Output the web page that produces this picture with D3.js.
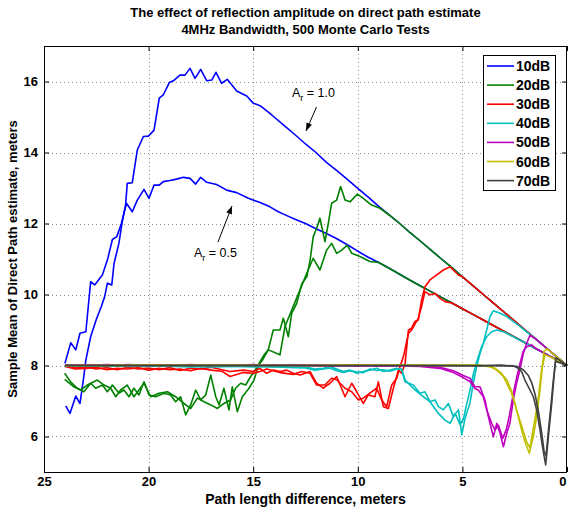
<!DOCTYPE html>
<html><head><meta charset="utf-8">
<script src="https://cdn.jsdelivr.net/npm/d3@7"></script>
<style>
body{margin:0;background:#fff}
svg{display:block}
text{font-family:"Liberation Sans",Arial,Helvetica,sans-serif}
</style>
</head><body>
<svg id="c" width="568" height="508"></svg>
<script>
// ---------- data ----------
const titleLines = ["The effect of reflection amplitude on direct path estimate", "4MHz Bandwidth, 500 Monte Carlo Tests"];
const xLabel = "Path length difference, meters";
const yLabel = "Sample Mean of Direct Path estimate, meters";
const xTicks = [25, 20, 15, 10, 5, 0];
const yTicks = [6, 8, 10, 12, 14, 16];
const seriesNames = ["10dB", "20dB", "30dB", "40dB", "50dB", "60dB", "70dB"];
const seriesColors = ["#0000ff", "#008000", "#ff0000", "#00bfbf", "#bf00bf", "#bfbf00", "#404040"];

// common tails: Ar = 1.0 (upper) and Ar = 0.5 (lower)
const upperEnv = [[14,15.0],[13.5,14.75],[13,14.5],[12.5,14.24],[12,14.0],[11.5,13.72],[11,13.49],[10.5,13.24],[10,12.99],[9.5,12.74],[9,12.48],[8.5,12.24],[8,12.0],[7.5,11.74],[7,11.5],[6.5,11.25],[6,11.0],[5.5,10.76],[5,10.5],[4.5,10.25],[4,10.0],[3.5,9.75],[3,9.5],[2.5,9.25],[2,9.0],[1.5,8.75],[1,8.5],[0.5,8.25],[0,8.0]];
const lowerEnv = [[13.5,12.25],[13,12.12],[12.5,12.0],[12,11.85],[11.5,11.72],[11,11.57],[10.5,11.4],[10,11.22],[9.5,11.05],[9,10.9],[8.5,10.74],[8,10.57],[7.5,10.4],[7,10.24],[6.5,10.08],[6,9.92],[5.5,9.76],[5,9.6],[4.5,9.44],[4,9.28],[3.5,9.12],[3,8.96],[2.5,8.8],[2,8.64],[1.5,8.48],[1,8.32],[0.5,8.16],[0,8.0]];

// 10 dB
const s10a = [[23.96,6.86],[23.76,6.65],[23.48,7.14],[23.28,6.93],[23.12,7.59],[23.0,8.15],[22.77,8.81],[22.48,9.33],[22.26,9.66],[22.1,9.94],[21.97,10.32],[21.76,10.27],[21.65,10.88],[21.42,11.44],[21.26,12.05],[21.1,12.52],[21.02,13.13],[20.78,13.15],[20.54,14.07],[20.25,14.45],[20.01,14.46],[19.74,14.63],[19.49,15.53],[19.3,15.62],[19.01,15.97],[18.82,16.02],[18.5,16.18],[18.26,16.18],[18.02,16.37],[17.78,16.09],[17.51,16.34],[17.22,16.02],[16.98,16.04],[16.78,16.26],[16.51,15.95],[16.24,16.06],[15.79,15.73],[15.31,15.59],[15.0,15.39],[14.67,15.32],[14.2,15.1]];
const s10b = [[24.0,8.06],[23.72,8.64],[23.48,8.44],[23.28,8.91],[23.0,8.95],[22.77,10.36],[22.58,10.27],[22.21,10.55],[21.97,10.97],[21.73,11.55],[21.52,11.63],[21.3,12.0],[21.06,12.57],[20.78,12.33],[20.54,12.66],[20.22,12.96],[19.98,12.71],[19.74,13.08],[19.49,13.08],[19.3,13.18],[18.98,13.21],[18.66,13.25],[18.34,13.3],[18.02,13.27],[17.75,13.11],[17.51,13.3],[17.22,13.16],[16.75,13.1],[16.27,12.94],[15.79,12.87],[15.23,12.71],[14.67,12.59],[14.2,12.47],[13.8,12.33]];
// 20 dB
const s20a = [[24.01,7.78],[23.73,7.54],[23.41,7.36],[23.09,7.26],[22.77,7.5],[22.53,7.36],[22.21,7.45],[21.97,7.26],[21.73,7.45],[21.41,7.22],[21.18,7.31],[20.94,7.12],[20.7,7.36],[20.46,7.17],[20.22,7.54],[19.98,7.17],[19.66,7.12],[19.26,7.22],[18.95,7.17],[18.71,6.98],[18.47,7.12],[18.23,6.61],[17.99,6.89],[17.75,7.31],[17.51,7.03],[17.27,7.17],[17.03,7.73],[16.79,7.12],[16.63,6.89],[16.4,7.36],[16.16,6.75],[16.0,7.4],[15.76,6.7],[15.52,7.12],[15.2,7.36],[14.96,7.59],[14.72,8.06],[14.48,8.3],[14.28,8.44],[14.04,9.0],[13.72,9.0],[13.56,9.33],[13.32,8.81],[13.16,9.47],[12.92,9.75],[12.68,10.3],[12.44,10.5],[12.28,10.97],[12.13,11.63],[11.97,11.86],[11.81,12.15],[11.57,11.49],[11.41,12.0],[11.25,12.57],[11.01,12.66],[10.82,13.04],[10.61,12.66],[10.37,12.61],[10.02,12.83],[9.74,12.71],[9.34,12.52],[8.94,12.43]];
const s20b = [[24.01,7.61],[23.57,7.4],[23.25,7.31],[22.93,7.45],[22.45,7.59],[22.13,7.45],[21.81,7.36],[21.57,7.12],[21.34,7.31],[21.02,7.45],[20.7,7.12],[20.22,7.5],[19.9,7.12],[19.5,7.22],[19.1,7.26],[18.71,7.12],[18.31,6.93],[17.99,6.79],[17.67,7.08],[17.35,6.98],[17.03,6.89],[16.71,6.79],[16.4,6.93],[16.08,7.03],[15.84,7.36],[15.6,7.5],[15.36,7.45],[15.12,7.69],[14.8,7.97],[14.56,8.15],[14.28,8.44],[13.72,8.3],[13.48,9.1],[13.16,9.56],[12.76,10.13],[12.44,10.6],[12.13,11.02],[11.81,10.69],[11.49,11.25],[11.25,11.44],[11.01,11.16],[10.77,11.25],[10.5,11.39],[10.29,11.16],[9.9,11.07],[9.42,10.93]];
// 30 dB
const s30a = [[24,8.0],[23.5,7.93],[23,7.96],[22.5,7.9],[22,7.94],[21.5,7.88],[21,7.95],[20.5,7.9],[20,7.93],[19.5,7.88],[19,7.94],[18.5,7.86],[18,7.92],[17.5,7.9],[17,7.95],[16.5,7.88],[16.11,7.83],[15.47,7.87],[14.99,7.83],[14.68,7.92],[14.36,7.78],[14.04,7.87],[13.72,7.83],[13.4,7.87],[13.08,7.78],[12.76,7.73],[12.28,7.83],[11.97,7.5],[11.65,7.36],[11.33,7.5],[11.01,7.69],[10.61,7.12],[10.29,7.5],[10.05,7.26],[9.74,6.93],[9.5,7.17],[9.18,7.12],[9.02,7.54],[8.78,6.84],[8.54,6.79],[8.3,7.36],[8.06,7.87],[7.9,7.78],[7.74,8.06],[7.58,9.0],[7.43,9.05],[7.27,9.24],[7.11,9.28],[6.95,9.85],[6.79,10.22],[6.55,10.41],[6.23,10.55],[5.91,10.69],[5.59,10.78],[5.35,10.64],[5.19,10.55]];
const s30b = [[24,7.97],[23.5,7.9],[23,7.92],[22.5,7.95],[22,7.88],[21.5,7.92],[21,7.9],[20.5,7.94],[20,7.87],[19.5,7.92],[19,7.88],[18.5,7.9],[18,7.85],[17.5,7.92],[17,7.87],[16.5,7.84],[16.11,7.69],[15.47,7.8],[14.99,7.78],[14.68,7.83],[14.36,7.9],[13.72,7.8],[13.08,7.75],[12.68,7.83],[12.28,7.78],[11.97,7.45],[11.57,7.45],[11.25,7.64],[11.01,7.6],[10.61,7.36],[10.29,7.26],[9.97,7.03],[9.74,7.08],[9.42,7.22],[9.1,7.36],[8.86,7.03],[8.62,6.84],[8.38,7.45],[8.14,7.64],[7.98,7.97],[7.82,8.25],[7.58,8.9],[7.43,9.0],[7.11,9.33],[6.95,9.66],[6.79,10.08],[6.55,9.99],[6.31,10.03],[6.07,9.89],[5.83,9.8]];
// 40 dB
const s40a = [[24,8.0],[23,7.98],[22,8.0],[21,7.97],[20,7.99],[19,7.97],[18,7.98],[17,7.96],[16,7.98],[15,7.96],[14,7.97],[13,7.95],[12.5,7.96],[12.05,7.9],[11.65,7.92],[11.33,7.97],[10.69,7.83],[10.37,7.87],[10.05,7.78],[9.74,7.83],[9.42,7.87],[9.1,7.92],[8.78,7.83],[8.46,7.87],[8.14,7.92],[7.9,7.87],[7.74,7.54],[7.35,7.45],[7.03,7.22],[6.79,7.26],[6.55,6.98],[6.31,7.03],[6.15,6.84],[5.91,6.75],[5.67,6.93],[5.43,6.56],[5.19,6.75],[5.03,6.05],[4.88,6.5],[4.64,6.94],[4.48,7.5],[4.32,7.97],[4.16,8.34],[4.0,8.62],[3.84,9.0],[3.68,9.38],[3.52,9.54],[3.2,9.47],[2.88,9.38],[2.57,9.24],[2.25,9.1],[1.93,8.95]];
const s40b = [[24,7.98],[23,8.0],[22,7.97],[21,7.99],[20,7.97],[19,7.99],[18,7.96],[17,7.98],[16,7.97],[15,7.98],[14,7.96],[13,7.94],[12.5,7.93],[12.05,7.87],[11.65,7.9],[11.33,7.93],[11.01,7.85],[10.69,7.8],[10.37,7.85],[10.05,7.82],[9.74,7.8],[9.42,7.9],[9.1,7.86],[8.78,7.88],[8.46,7.84],[8.14,7.9],[7.9,7.9],[7.74,7.59],[7.27,7.31],[6.87,7.12],[6.55,6.98],[6.15,6.65],[5.83,6.46],[5.59,6.37],[5.35,6.65],[5.11,6.33],[4.95,6.5],[4.8,6.9],[4.64,7.3],[4.48,7.75],[4.32,8.1],[4.08,8.53],[3.84,8.81],[3.6,8.95],[3.36,9.0],[3.04,8.95],[2.72,8.86],[2.41,8.76]];
// 50 dB
const s50a = [[24,8.02],[23,8.0],[22,8.03],[21,8.0],[20,8.02],[19,8.0],[18,8.03],[17,8.0],[16,8.02],[15,8.0],[14,8.02],[13,8.0],[12,8.01],[11,7.99],[10,8.01],[9,7.98],[8,8.0],[7.03,7.99],[6.07,7.95],[5.43,7.85],[4.96,7.72],[4.64,7.64],[4.4,7.4],[4.16,7.4],[3.92,7.03],[3.76,6.56],[3.52,5.99],[3.36,6.37],[3.2,6.09],[3.04,5.71],[2.88,6.09],[2.73,6.37],[2.57,7.03],[2.41,7.5],[2.25,7.87],[2.09,8.34],[1.93,8.62],[1.77,8.85]];
const s50b = [[24,8.0],[23,8.02],[22,8.0],[21,8.03],[20,8.0],[19,8.02],[18,8.0],[17,8.02],[16,8.0],[15,8.03],[14,8.0],[13,8.02],[12,7.99],[11,8.0],[10,7.98],[9,8.0],[8,7.99],[7.03,7.97],[6.07,7.92],[5.43,7.8],[4.96,7.66],[4.64,7.55],[4.4,7.35],[4.24,7.31],[4.0,7.12],[3.84,6.75],[3.6,6.37],[3.44,6.18],[3.28,6.32],[3.07,5.95],[2.9,6.2],[2.75,6.6],[2.57,7.2],[2.41,7.65],[2.25,8.05],[2.09,8.4],[1.93,8.53],[1.69,8.58]];
// 60 dB
const s60a = [[24,8.0],[20,8.01],[16,8.0],[12,8.0],[10,8.02],[8,8.0],[5,8.01],[4.16,8.01],[3.68,7.97],[3.36,7.87],[3.04,7.69],[2.8,7.4],[2.65,7.22],[2.49,6.93],[2.33,6.56],[2.17,6.18],[2.01,5.85],[1.8,5.53],[1.61,5.99],[1.45,6.56],[1.29,7.31],[1.21,7.78],[1.1,8.4],[0.95,8.47]];
const s60b = [[24,8.0],[20,8.0],[16,8.01],[12,8.0],[8,8.01],[5,8.0],[4.16,8.0],[3.52,7.95],[3.2,7.82],[2.88,7.6],[2.65,7.28],[2.41,6.75],[2.17,6.3],[1.93,5.85],[1.77,5.68],[1.65,6.1],[1.5,6.6],[1.35,7.2],[1.21,7.9],[1.05,8.3]];
// 70 dB
const s70a = [[24,8.0],[16,8.0],[8,8.0],[4.16,7.99],[3.2,8.01],[2.57,7.99],[2.33,7.92],[2.17,7.83],[2.01,7.59],[1.77,7.31],[1.61,7.12],[1.45,6.75],[1.29,6.18],[1.17,5.71],[1.02,5.2],[0.89,6.0],[0.73,6.93],[0.62,7.69],[0.53,8.22]];
const s70b = [[24,8.0],[16,8.0],[8,8.0],[4,8.0],[2.41,7.98],[2.09,7.88],[1.85,7.72],[1.69,7.52],[1.53,7.2],[1.37,6.72],[1.21,6.1],[1.1,5.6],[1.0,5.45],[0.9,6.1],[0.78,6.8],[0.66,7.55],[0.55,8.12]];

const seriesA = [s10a, s20a, s30a, s40a, s50a, s60a, s70a]; // Ar = 1.0
const seriesB = [s10b, s20b, s30b, s40b, s50b, s60b, s70b]; // Ar = 0.5

// ---------- chart ----------
const M = {l: 44, r: 567, t: 46, b: 472};
const svg = d3.select("#c");
const x = d3.scaleLinear().domain([25, 0]).range([M.l, M.r]);
const y = d3.scaleLinear().domain([5, 17]).range([M.b, M.t]);

// grid
const grid = svg.append("g").attr("stroke", "#8c8c8c").attr("stroke-width", 1).attr("stroke-dasharray", "1,3");
grid.selectAll(".gx").data(xTicks.filter(v => v > 0 && v < 25)).join("line")
  .attr("x1", d => Math.round(x(d)) + 0.5).attr("x2", d => Math.round(x(d)) + 0.5)
  .attr("y1", M.t).attr("y2", M.b);
grid.selectAll(".gy").data(yTicks).join("line")
  .attr("y1", d => Math.round(y(d)) + 0.5).attr("y2", d => Math.round(y(d)) + 0.5)
  .attr("x1", M.l).attr("x2", M.r);

// lines
function withTail(pts, env) {
  const last = pts[pts.length - 1][0];
  return pts.concat(env.filter(p => p[0] < last - 0.1));
}
const line = d3.line().x(d => x(d[0])).y(d => y(d[1]));
const gL = svg.append("g").attr("fill", "none").attr("stroke-width", 1.6).attr("stroke-linejoin", "round");
seriesNames.forEach((n, i) => {
  gL.append("path").attr("d", line(withTail(seriesA[i], upperEnv))).attr("stroke", seriesColors[i]);
  gL.append("path").attr("d", line(withTail(seriesB[i], lowerEnv))).attr("stroke", seriesColors[i]);
});

// axes
const axFont = g => g.selectAll("text").attr("font-size", 13).attr("font-weight", "bold").attr("fill", "#000")
  .attr("font-family", "'Liberation Sans', Arial, sans-serif");
const axStroke = g => { g.select(".domain").remove(); g.selectAll("line").attr("stroke", "#000"); };
svg.append("g").attr("transform", `translate(0,${M.b})`)
  .call(d3.axisBottom(x).tickValues(xTicks).tickFormat(d3.format("d")).tickSizeInner(-5).tickSizeOuter(0).tickPadding(5))
  .call(axStroke).call(axFont)
  .call(g => g.selectAll(".tick text").filter(d => d === 0).attr("text-anchor", "end").attr("dx", -1));
svg.append("g").attr("transform", `translate(0,${M.t})`)
  .call(d3.axisTop(x).tickValues(xTicks).tickFormat("").tickSizeInner(-5).tickSizeOuter(0))
  .call(axStroke);
svg.append("g").attr("transform", `translate(${M.l},0)`)
  .call(d3.axisLeft(y).tickValues(yTicks).tickFormat(d3.format("d")).tickSizeInner(-5).tickSizeOuter(0).tickPadding(6))
  .call(axStroke).call(axFont);
svg.append("g").attr("transform", `translate(${M.r},0)`)
  .call(d3.axisRight(y).tickValues(yTicks).tickFormat("").tickSizeInner(-5).tickSizeOuter(0))
  .call(axStroke);
svg.append("rect").attr("x", M.l + 0.5).attr("y", M.t + 0.5).attr("width", M.r - M.l - 1).attr("height", M.b - M.t)
  .attr("fill", "none").attr("stroke", "#000");

// titles
svg.append("text").attr("x", (M.l + M.r) / 2).attr("text-anchor", "middle").attr("font-weight", "bold").attr("font-size", 13)
  .selectAll("tspan").data(titleLines).join("tspan")
  .attr("x", (M.l + M.r) / 2).attr("y", (d, i) => 17 + i * 17).text(d => d);
svg.append("text").attr("x", (M.l + M.r) / 2).attr("y", 504).attr("text-anchor", "middle")
  .attr("font-weight", "bold").attr("font-size", 14).text(xLabel);
svg.append("text").attr("transform", `translate(17,${(M.t + M.b) / 2}) rotate(-90)`).attr("text-anchor", "middle")
  .attr("font-weight", "bold").attr("font-size", 13).text(yLabel);

// legend
const lg = svg.append("g");
lg.append("rect").attr("x", 483.5).attr("y", 55.5).attr("width", 72).attr("height", 135)
  .attr("fill", "#fff").attr("stroke", "#000");
seriesNames.forEach((n, i) => {
  const yy = 66 + i * 19.1;
  lg.append("line").attr("x1", 487).attr("x2", 514).attr("y1", yy).attr("y2", yy)
    .attr("stroke", seriesColors[i]).attr("stroke-width", 1.6);
  lg.append("text").attr("x", 516).attr("y", yy + 5).attr("font-size", 14).attr("font-weight", "bold").text(n);
});

// annotations
function annot(tx, ty, val, x1, y1, x2, y2) {
  const t = svg.append("text").attr("x", tx).attr("y", ty).attr("font-size", 12.5);
  t.append("tspan").text("A");
  t.append("tspan").attr("font-size", 9).attr("dy", 4).text("r");
  t.append("tspan").attr("dy", -4).text(" = " + val);
  svg.append("line").attr("x1", x1).attr("y1", y1).attr("x2", x2).attr("y2", y2).attr("stroke", "#000").attr("stroke-width", 1);
  const a = Math.atan2(y2 - y1, x2 - x1), L = 8, w = 3;
  const bx = x2 - L * Math.cos(a), by = y2 - L * Math.sin(a);
  const px = -Math.sin(a) * w, py = Math.cos(a) * w;
  svg.append("path").attr("d", `M${x2},${y2}L${bx + px},${by + py}L${bx - px},${by - py}Z`).attr("fill", "#000");
}
annot(292, 97, "1.0", 316.5, 107, 306, 131);
annot(194, 257, "0.5", 218, 242, 232, 206);
</script>
</body></html>
